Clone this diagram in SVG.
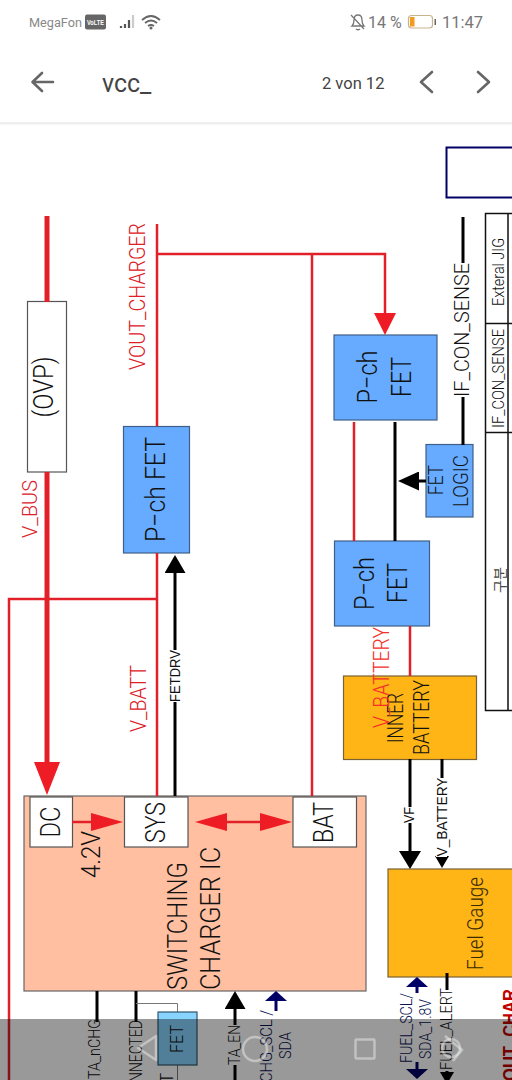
<svg xmlns="http://www.w3.org/2000/svg" width="512" height="1080" viewBox="0 0 512 1080">
<style>
text{font-family:"Liberation Sans",Arial,"Noto Sans CJK KR",sans-serif;text-anchor:middle;fill:#111}
#fet-upper text,#fet-lower text,#fet-logic text,#inner-battery text,#fuel-gauge text,#ovp text,#fet-charger text,#charger-ic text,.lt{font-family:Roboto,"Liberation Sans",sans-serif;font-weight:300}
.ui{font-family:Roboto,"Liberation Sans",sans-serif;text-anchor:start;fill:#777}
.red{fill:#dc2027}
.navy{fill:#0a1250}
.rw{fill:none;stroke:#e2202a;stroke-width:2.5}
.rt{fill:none;stroke:#e2202a;stroke-width:5}
.bw{fill:none;stroke:#000;stroke-width:3}
.nw{fill:none;stroke:#000066;stroke-width:3}
.fet{fill:#66abff;stroke:#3f5f88;stroke-width:1.2}
.white{fill:#fff;stroke:#555;stroke-width:1.2}
.amber{fill:#ffb515;stroke:#7a6232;stroke-width:1.2}
.gap{fill:#fff}
.ico{fill:none;stroke:#666;stroke-width:2.6;stroke-linecap:round;stroke-linejoin:round}
.nav{fill:none;stroke:#fff;stroke-opacity:.4;stroke-width:2.5}
</style>
<defs>
<marker id="hRedXL" markerUnits="userSpaceOnUse" viewBox="0 0 1 1" preserveAspectRatio="none" markerWidth="33" markerHeight="26" refX="0" refY=".5" orient="auto"><path d="M0 0L1 .5L0 1z" fill="#ee1c25"/></marker>
<marker id="hRedL" markerUnits="userSpaceOnUse" viewBox="0 0 1 1" preserveAspectRatio="none" markerWidth="22" markerHeight="22" refX="0" refY=".5" orient="auto"><path d="M0 0L1 .5L0 1z" fill="#ee1c25"/></marker>
<marker id="hRedM" markerUnits="userSpaceOnUse" viewBox="0 0 1 1" preserveAspectRatio="none" markerWidth="32" markerHeight="18" refX="0" refY=".5" orient="auto-start-reverse"><path d="M0 0L1 .5L0 1z" fill="#ee1c25"/></marker>
<marker id="hBlk" markerUnits="userSpaceOnUse" viewBox="0 0 1 1" preserveAspectRatio="none" markerWidth="18" markerHeight="21" refX="0" refY=".5" orient="auto"><path d="M0 0L1 .5L0 1z" fill="#000"/></marker>
<marker id="hBlkH" markerUnits="userSpaceOnUse" viewBox="0 0 1 1" preserveAspectRatio="none" markerWidth="21" markerHeight="19" refX="0" refY=".5" orient="auto"><path d="M0 0L1 .5L0 1z" fill="#000"/></marker>
<marker id="hBlkL" markerUnits="userSpaceOnUse" viewBox="0 0 1 1" preserveAspectRatio="none" markerWidth="18" markerHeight="22" refX="0" refY=".5" orient="auto"><path d="M0 0L1 .5L0 1z" fill="#000"/></marker>
<marker id="hBlkS" markerUnits="userSpaceOnUse" viewBox="0 0 1 1" preserveAspectRatio="none" markerWidth="12" markerHeight="14" refX="0" refY=".5" orient="auto"><path d="M0 0L1 .5L0 1z" fill="#000"/></marker>
<marker id="hNavy" markerUnits="userSpaceOnUse" viewBox="0 0 1 1" preserveAspectRatio="none" markerWidth="10" markerHeight="22" refX="0" refY=".5" orient="auto"><path d="M0 0L1 .5L0 1z" fill="#000066"/></marker>
</defs>
<rect width="512" height="1080" fill="#fff"/>

<g id="status-bar">
<text class="ui" x="29" y="27" font-size="12" textLength="53" lengthAdjust="spacingAndGlyphs" style="fill:#888">MegaFon</text>
<rect x="85" y="14.500" width="21" height="15" rx="2" fill="#666"/>
<text x="95.500" y="25" font-size="8" font-weight="bold" textLength="17" lengthAdjust="spacingAndGlyphs" style="fill:#fff">VoLTE</text>
<path d="M121 26v2M125 24v4M129 20v8" stroke="#555" stroke-width="2.2" fill="none"/>
<path d="M133 15v13" stroke="#ccc" stroke-width="2.2" fill="none"/>
<path d="M142 20q9-8 18 0M145 23q6-5 12 0M148 26q3-2 6 0" fill="none" stroke="#666" stroke-width="1.800"/>
<circle cx="151" cy="28" r="1.500" fill="#666"/>
<path d="M352 26q2-2 2-6q0-5 4-5q4 0 4 5q0 4 2 6zM351 15l13 14M356 29q2 1.500 4 0" fill="none" stroke="#777" stroke-width="1.300"/>
<text class="ui" x="368" y="28" font-size="16">14 %</text>
<rect x="408.500" y="15.500" width="24" height="12.500" rx="3" fill="#fff" stroke="#c8b48c" stroke-width="1.200"/>
<rect x="410" y="17" width="4.500" height="9.500" fill="#f59a1e"/>
<rect x="434.500" y="19" width="1.500" height="6" fill="#666"/>
<text class="ui" x="442" y="28" font-size="16.500">11:47</text>
</g>

<g id="app-bar">
<path class="ico" d="M53 82H33M42 73l-9.500 9l9.500 9"/>
<text class="ui" x="102" y="92" font-size="25" style="fill:#444">vcc_</text>
<text class="ui" x="322" y="89" font-size="16.500" style="fill:#444">2 von 12</text>
<path class="ico" d="M432 72l-11 10l11 10M478 72l11 10l-11 10"/>
<rect x="0" y="122" width="512" height="2.500" fill="#eee"/>
</g>

<g id="blue-box"><rect x="446.500" y="147.500" width="70" height="50" fill="#fff" stroke="#000066" stroke-width="2"/></g>

<g id="table">
<path fill="none" stroke="#111" stroke-width="1.500" d="M512 213.500H485.500V710.500H512M485.500 323.500H512M485.500 432.500H512M508 213V710.500"/>
<text class="lt" transform="translate(504,272) rotate(-90)" font-size="17" textLength="68" lengthAdjust="spacingAndGlyphs">Exteral JIG</text>
<text class="lt" transform="translate(504,378.500) rotate(-90)" font-size="17" textLength="99" lengthAdjust="spacingAndGlyphs">IF_CON_SENSE</text>
<text transform="translate(505,580) rotate(-90)" font-size="14" textLength="26" lengthAdjust="spacingAndGlyphs" style="fill:#444;font-family:'Noto Sans CJK KR',sans-serif">구분</text>
</g>

<g id="fet-upper">
<rect class="fet" x="334" y="335" width="103" height="85"/>
<text transform="translate(377,377) rotate(-90)" font-size="28" textLength="53" lengthAdjust="spacingAndGlyphs">P−ch</text>
<text transform="translate(411,377) rotate(-90)" font-size="28" textLength="40" lengthAdjust="spacingAndGlyphs">FET</text>
</g>
<g id="fet-lower">
<rect class="fet" x="334.500" y="541" width="95" height="85"/>
<text transform="translate(374,583.500) rotate(-90)" font-size="28" textLength="53" lengthAdjust="spacingAndGlyphs">P−ch</text>
<text transform="translate(407,583) rotate(-90)" font-size="28" textLength="40" lengthAdjust="spacingAndGlyphs">FET</text>
</g>
<g id="fet-logic">
<rect class="fet" x="426" y="444.500" width="47" height="72.500"/>
<text transform="translate(443,480) rotate(-90)" font-size="21" textLength="30" lengthAdjust="spacingAndGlyphs">FET</text>
<text transform="translate(468,481) rotate(-90)" font-size="21" textLength="52" lengthAdjust="spacingAndGlyphs">LOGIC</text>
</g>
<g id="inner-battery">
<rect class="amber" x="343.500" y="676" width="133" height="83.500"/>
<text transform="translate(403,718) rotate(-90)" font-size="22" textLength="50" lengthAdjust="spacingAndGlyphs">INNER</text>
<text transform="translate(429,717.500) rotate(-90)" font-size="22" textLength="75" lengthAdjust="spacingAndGlyphs">BATTERY</text>
<text transform="translate(389,677.500) rotate(-90)" font-size="22" textLength="101" lengthAdjust="spacingAndGlyphs" style="fill:#f5302a">V_BATTERY</text>
</g>
<g id="fuel-gauge">
<rect class="amber" x="388" y="869" width="130" height="108"/>
<text transform="translate(483,923.500) rotate(-90)" font-size="22" textLength="93" lengthAdjust="spacingAndGlyphs" style="fill:#3a2a00">Fuel Gauge</text>
</g>
<g id="ovp">
<rect class="white" x="27.500" y="301.500" width="39" height="170.500"/>
<text transform="translate(53,387) rotate(-90)" font-size="27" textLength="61" lengthAdjust="spacingAndGlyphs">(OVP)</text>
</g>
<g id="fet-charger">
<rect class="fet" x="123.500" y="426.500" width="66" height="126.500"/>
<text transform="translate(165,489.500) rotate(-90)" font-size="28" textLength="105" lengthAdjust="spacingAndGlyphs">P−ch FET</text>
</g>
<g id="charger-ic">
<rect x="24" y="796" width="342" height="195" fill="#ffbfa0" stroke="#666" stroke-width="1.200"/>
<rect class="white" x="30" y="797" width="42.500" height="50"/>
<rect class="white" x="124.500" y="797" width="63.500" height="50"/>
<rect class="white" x="293" y="797" width="63.500" height="50"/>
<text transform="translate(60,822) rotate(-90)" font-size="28" textLength="31" lengthAdjust="spacingAndGlyphs">DC</text>
<text transform="translate(165,822.500) rotate(-90)" font-size="28" textLength="41" lengthAdjust="spacingAndGlyphs">SYS</text>
<text transform="translate(333,822.500) rotate(-90)" font-size="28" textLength="41" lengthAdjust="spacingAndGlyphs">BAT</text>
<text transform="translate(100,854.500) rotate(-90)" font-size="26" textLength="47" lengthAdjust="spacingAndGlyphs">4.2V</text>
<text transform="translate(187,926) rotate(-90)" font-size="28" textLength="128" lengthAdjust="spacingAndGlyphs">SWITCHING</text>
<text transform="translate(220,918.500) rotate(-90)" font-size="28" textLength="143" lengthAdjust="spacingAndGlyphs">CHARGER IC</text>
</g>

<g id="connectors">
<path class="rt" d="M47 216V302M47 472V762" marker-end="url(#hRedXL)"/>
<path class="rw" d="M157 224V426M157 254H385V313" marker-end="url(#hRedL)"/>
<path class="rw" d="M312 254V796M157 553V796M157 599H9V1080"/>
<path class="rw" d="M354 422V541M410 626V676"/>
<path class="rw" d="M72 822H91" marker-end="url(#hRedM)"/>
<path class="rw" d="M227 822H260" marker-start="url(#hRedM)" marker-end="url(#hRedM)"/>
<path class="bw" d="M395 422V541M463 217V445"/>
<path class="bw" d="M426 481H419" marker-end="url(#hBlkH)"/>
<path class="bw" d="M175 796V573" marker-end="url(#hBlk)"/>
<path class="bw" d="M410 759V851" marker-end="url(#hBlkL)"/>
<path class="bw" d="M442 759V856" marker-end="url(#hBlkS)"/>
<path class="bw" d="M97 991V1022M136 991V1022"/>
<path class="bw" d="M235 1080V1009" marker-end="url(#hBlk)"/>
<path class="nw" d="M276 1011V1001" marker-end="url(#hNavy)"/>
<path class="nw" d="M417 993V987" marker-end="url(#hNavy)"/>
<path class="nw" d="M417 1062V1069" marker-end="url(#hNavy)"/>
<path class="bw" d="M447 973V990M447 1071V1072" marker-end="url(#hBlkS)"/>
<path fill="none" stroke="#777" stroke-width="1" d="M136 1003.500H177.500V1012M177.500 1065V1080"/>
</g>

<g id="labels">
<rect class="gap" x="452" y="263" width="20" height="134"/>
<text class="lt" transform="translate(469,330) rotate(-90)" font-size="21" textLength="134" lengthAdjust="spacingAndGlyphs">IF_CON_SENSE</text>
<text class="red lt" transform="translate(37,509) rotate(-90)" font-size="21" textLength="58" lengthAdjust="spacingAndGlyphs">V_BUS</text>
<text class="red lt" transform="translate(146,698.500) rotate(-90)" font-size="22" textLength="67" lengthAdjust="spacingAndGlyphs">V_BATT</text>
<text class="red lt" transform="translate(145,296.500) rotate(-90)" font-size="22" textLength="147" lengthAdjust="spacingAndGlyphs">VOUT_CHARGER</text>
<rect class="gap" x="168" y="650" width="12" height="52"/>
<text transform="translate(180,676) rotate(-90)" font-size="15" textLength="52" lengthAdjust="spacingAndGlyphs">FETDRV</text>
<rect class="gap" x="403" y="807" width="11" height="16"/>
<text transform="translate(414,815) rotate(-90)" font-size="15" textLength="16" lengthAdjust="spacingAndGlyphs">VF</text>
<rect class="gap" x="436" y="778" width="11" height="79"/>
<text transform="translate(447,817) rotate(-90)" font-size="15" textLength="79" lengthAdjust="spacingAndGlyphs">V_BATTERY</text>
<text class="lt" transform="translate(100,1049) rotate(-90)" font-size="17" textLength="60" lengthAdjust="spacingAndGlyphs">TA_nCHG</text>
<text class="lt" transform="translate(142,1051) rotate(-90)" font-size="18" textLength="62" lengthAdjust="spacingAndGlyphs">NNECTED</text>
<rect class="gap" x="228" y="1025" width="12" height="40"/>
<text class="lt" transform="translate(240,1045) rotate(-90)" font-size="17" textLength="40" lengthAdjust="spacingAndGlyphs">TA_EN</text>
<text class="navy lt" transform="translate(272,1046) rotate(-90)" font-size="17" textLength="72" lengthAdjust="spacingAndGlyphs">CHG_SCL /</text>
<text class="navy lt" transform="translate(291,1045.500) rotate(-90)" font-size="17" textLength="27" lengthAdjust="spacingAndGlyphs">SDA</text>
<text class="navy lt" transform="translate(412,1028) rotate(-90)" font-size="17" textLength="70" lengthAdjust="spacingAndGlyphs">FUEL_SCL/</text>
<text class="navy lt" transform="translate(431,1029) rotate(-90)" font-size="17" textLength="60" lengthAdjust="spacingAndGlyphs">SDA_1.8V</text>
<text class="lt" transform="translate(452,1029) rotate(-90)" font-size="17" textLength="82" lengthAdjust="spacingAndGlyphs">FUEL_ALERT</text>
<text transform="translate(516,1035) rotate(-90)" font-size="18" font-weight="bold" textLength="92" lengthAdjust="spacingAndGlyphs" style="fill:#c00000">OUT_CHAR</text>
</g>

<g id="fet-small">
<rect x="158" y="1012" width="39" height="53" fill="#88d4ff" stroke="#33566c" stroke-width="1.200"/>
<text class="lt" transform="translate(183,1039) rotate(-90)" font-size="18" textLength="28" lengthAdjust="spacingAndGlyphs">FET</text>
<text class="lt" transform="translate(173,1078) rotate(-90)" font-size="18">T</text>
</g>

<g id="nav-overlay">
<rect x="0" y="1019" width="512" height="61" fill="#000" fill-opacity=".4"/>
<path class="nav" d="M156 1036L138 1048L156 1060z" stroke-linejoin="round"/>
<circle class="nav" cx="255" cy="1049" r="12"/>
<rect class="nav" x="355.500" y="1039.500" width="19" height="19" rx="1"/>
<circle class="nav" cx="451" cy="1048" r="9"/>
<path class="nav" d="M445 1036L462 1050L453 1061"/>
</g>
</svg>
